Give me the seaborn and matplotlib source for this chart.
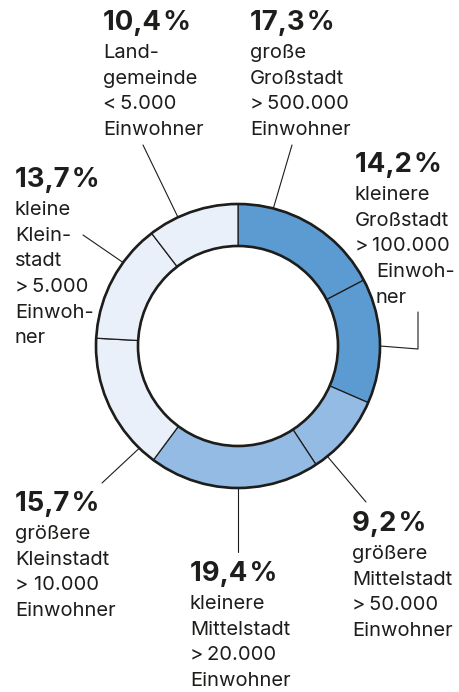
import numpy as np
import matplotlib
matplotlib.use("Agg")
import matplotlib.pyplot as plt
import seaborn as sns

# Anteile der Gemeindetypen, im Uhrzeigersinn ab 12 Uhr
shares = [17.3, 14.2, 9.2, 19.4, 15.7, 13.7, 10.4]
descriptions = [
    ["große", "Großstadt", ">\u2009500.000", "Einwohner"],
    ["kleinere", "Großstadt", ">\u2009100.000", "Einwoh-", "ner"],
    ["größere", "Mittelstadt", ">\u200950.000", "Einwohner"],
    ["kleinere", "Mittelstadt", ">\u200920.000", "Einwohner"],
    ["größere", "Kleinstadt", "> 10.000", "Einwohner"],
    ["kleine", "Klein-", "stadt", ">\u20095.000", "Einwoh-", "ner"],
    ["Land-", "gemeinde", "<\u20095.000", "Einwohner"],
]
colors = ["#5b9bd1", "#5b9bd1", "#93bbe3", "#93bbe3", "#e9f0fa", "#e9f0fa", "#e9f0fa"]

# Layout (Pixel, y von oben)
W, H = 460, 692
cx, cy = 238, 346
r_out, r_in = 142, 100
label_pos = [(250, 30), (355, 172), (352, 531), (190, 581), (15, 511), (15, 187), (103, 30)]
line_indent = {1: [0, 0, 0, 21, 21]}
leader = [
    (75.6, [(292, 145)]),
    (0.0, [(418, 349), (418, 312)]),
    (309.0, [(366, 502)]),
    (270.0, [(238, 552)]),
    (226.0, [(102, 483)]),
    (144.0, [(83, 235)]),
    (115.0, [(143, 145)]),
]

ink = "#1d1d1b"

sns.set_theme(style="white")
plt.rcParams["font.family"] = ["Inter", "DejaVu Sans"]

fig = plt.figure(figsize=(W / 100, H / 100), dpi=100)
ax = fig.add_axes([0, 0, 1, 1])

ax.pie(shares, colors=colors, startangle=90, counterclock=False,
       radius=r_out, center=(cx, H - cy),
       wedgeprops=dict(width=r_out - r_in, edgecolor=ink, linewidth=0.9))
for r in (r_out, r_in):
    ax.add_patch(plt.Circle((cx, H - cy), r, fill=False, ec=ink, lw=1.9, zorder=3))

# Hinweislinien
for ang, pts in leader:
    a = np.deg2rad(ang)
    xs = [cx + r_out * np.cos(a)] + [p[0] for p in pts]
    ys = [H - cy + r_out * np.sin(a)] + [H - p[1] for p in pts]
    ax.plot(xs, ys, color=ink, lw=0.8, zorder=2)

# Beschriftungen
for i, (val, lines) in enumerate(zip(shares, descriptions)):
    x, yb = label_pos[i]
    pct = f"{val:.1f}".replace(".", ",") + "\u200a%"
    ax.text(x, H - yb, pct, fontsize=19.8, fontweight="bold", color=ink,
            ha="left", va="baseline")
    ind = line_indent.get(i, [0] * len(lines))
    for j, line in enumerate(lines):
        ax.text(x + ind[j], H - (yb + 28 + 25.7 * j), line, fontsize=14.5,
                color=ink, ha="left", va="baseline")

ax.set_xlim(0, W)
ax.set_ylim(0, H)
ax.set_aspect("equal")
ax.set_axis_off()

fig.savefig("out.png", dpi=100)
